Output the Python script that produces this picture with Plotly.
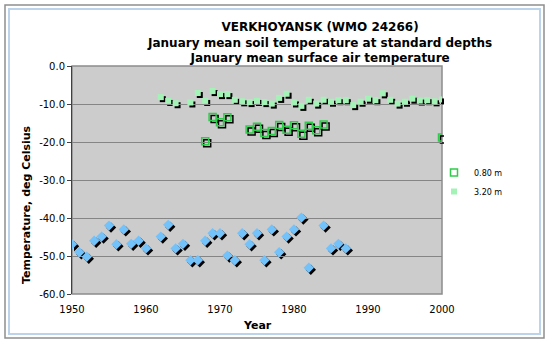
import plotly.graph_objects as go

# ---------------- data ----------------
years_air = [1950, 1951, 1952, 1953, 1954, 1955, 1956, 1957, 1958, 1959, 1960,
             1962, 1963, 1964, 1965, 1966, 1967, 1968, 1969, 1970, 1971, 1972,
             1973, 1974, 1975, 1976, 1977, 1978, 1979, 1980, 1981, 1982, 1984,
             1985, 1986, 1987]
air_temp = [-46.9, -49.0, -50.2, -46.0, -44.9, -42.0, -46.9, -43.0, -46.8, -46.0, -48.0,
            -44.9, -41.8, -48.0, -46.8, -51.1, -51.1, -46.0, -44.0, -44.0, -49.9, -51.1,
            -44.0, -46.9, -44.0, -51.1, -43.0, -49.0, -44.9, -43.0, -39.9, -53.1, -42.0,
            -48.0, -46.8, -48.0]

years_080 = [1968, 1969, 1970, 1971, 1974, 1975, 1976, 1977, 1978, 1979, 1980,
             1981, 1982, 1983, 1984, 2000]
soil_080 = [-19.8, -13.4, -14.8, -13.5, -16.7, -16.0, -17.6, -17.1, -15.5, -16.8, -15.6,
            -17.8, -15.7, -16.9, -15.4, -18.8]

years_320 = [1962, 1963, 1964, 1966, 1967, 1968, 1969, 1970, 1971, 1972, 1973, 1974,
             1975, 1976, 1977, 1978, 1979, 1980, 1981, 1982, 1983, 1984, 1985, 1986,
             1987, 1988, 1989, 1990, 1991, 1992, 1993, 1994, 1995, 1996, 1997, 1998,
             1999, 2000]
soil_320 = [-8.2, -9.2, -9.8, -9.6, -7.1, -9.2, -6.6, -7.4, -7.4, -8.9, -9.3, -9.5,
            -9.2, -9.5, -9.9, -8.4, -7.3, -9.6, -10.5, -8.9, -9.9, -8.9, -9.4, -9.0,
            -9.0, -10.3, -9.4, -8.6, -9.0, -7.2, -8.9, -9.9, -9.4, -8.6, -9.1, -9.0,
            -9.3, -8.8]

x_tick_vals = [1950, 1960, 1970, 1980, 1990, 2000]
x_tick_labels = ["1950", "1960", "1970", "1980", "1990", "2000"]
y_tick_vals = [0, -10, -20, -30, -40, -50, -60]
y_tick_labels = ["0.0", "-10.0", "-20.0", "-30.0", "-40.0", "-50.0", "-60.0"]

title_lines = ["VERKHOYANSK (WMO 24266)",
               "January mean soil temperature at standard depths",
               "January mean surface air temperature"]

# ---------------- layout helpers ----------------
W, H = 550, 346
PL, PR, PT, PB = 72, 442, 66, 294   # plot area in pixels
SH = 2                              # shadow offset in pixels
FONT = "DejaVu Sans"


def px(x):
    return x / W


def py(y):
    return 1 - y / H


fig = go.Figure()

# shadow traces (drawn on a subplot shifted down-right by SH pixels)
fig.add_trace(go.Scatter(x=years_air, y=air_temp, mode="markers", xaxis="x", yaxis="y",
                         marker=dict(symbol="diamond", size=8, color="#000000"),
                         showlegend=False, hoverinfo="skip"))
fig.add_trace(go.Scatter(x=years_080, y=soil_080, mode="markers", xaxis="x", yaxis="y",
                         marker=dict(symbol="square-open", size=7, color="#000000",
                                     line=dict(width=1.5, color="#000000")),
                         showlegend=False, hoverinfo="skip"))
fig.add_trace(go.Scatter(x=years_320, y=soil_320, mode="markers", xaxis="x", yaxis="y",
                         marker=dict(symbol="square", size=6, color="#000000"),
                         showlegend=False, hoverinfo="skip"))

# main traces
fig.add_trace(go.Scatter(x=years_air, y=air_temp, mode="markers", xaxis="x2", yaxis="y2",
                         name="Air", showlegend=False,
                         marker=dict(symbol="diamond", size=8, color="#74C2FA",
                                     line=dict(width=0))))
fig.add_trace(go.Scatter(x=years_080, y=soil_080, mode="markers", xaxis="x2", yaxis="y2",
                         name="0.80 m",
                         marker=dict(symbol="square-open", size=7, color="#2FCB4A",
                                     line=dict(width=1.5, color="#2FCB4A"))))
fig.add_trace(go.Scatter(x=years_320, y=soil_320, mode="markers", xaxis="x2", yaxis="y2",
                         name="3.20 m",
                         marker=dict(symbol="square", size=6, color="#A4F3B6",
                                     line=dict(width=0))))

fig.update_layout(
    width=W, height=H,
    margin=dict(l=0, r=0, t=0, b=0),
    paper_bgcolor="#FFFFFF",
    plot_bgcolor="rgba(0,0,0,0)",
    font=dict(family=FONT, size=10, color="#000000"),
    xaxis=dict(domain=[px(PL + SH), px(PR + SH)], range=[1950, 2000], visible=False,
               anchor="y", fixedrange=True),
    yaxis=dict(domain=[py(PB + SH), py(PT + SH)], range=[-60, 0], visible=False,
               anchor="x", fixedrange=True),
    xaxis2=dict(domain=[px(PL), px(PR)], range=[1950, 2000], anchor="y2",
                tickvals=x_tick_vals, ticktext=x_tick_labels, ticks="",
                ticklabelstandoff=8,
                showline=False, showgrid=False, zeroline=False,
                tickfont=dict(size=10), automargin=False),
    xaxis3=dict(overlaying="x2", side="top", anchor="y2", range=[1950, 2000],
                tickvals=x_tick_vals, ticks="inside", ticklen=4, tickcolor="#404040",
                showticklabels=False, showline=True, linecolor="#404040", linewidth=1,
                showgrid=False, zeroline=False),
    yaxis2=dict(domain=[py(PB), py(PT)], range=[-60, 0], anchor="x2",
                tickvals=y_tick_vals, ticktext=y_tick_labels,
                ticks="outside", ticklen=4, tickcolor="#404040",
                showline=True, linecolor="#404040", linewidth=1,
                showgrid=True, gridcolor="#858585", gridwidth=1.3, zeroline=False,
                tickfont=dict(size=10), automargin=False),
    legend=dict(x=px(434), y=py(158), xanchor="left", yanchor="top",
                bgcolor="rgba(0,0,0,0)", font=dict(size=8, family=FONT),
                itemsizing="trace"),
    showlegend=True,
)

# plot area background and frame
fig.add_shape(type="rect", xref="paper", yref="paper",
              x0=px(PL), x1=px(PR), y0=py(PB), y1=py(PT),
              fillcolor="#CCCCCC", line=dict(color="#8C8C8C", width=1.5), layer="below")

# window frame
fig.add_shape(type="rect", xref="paper", yref="paper",
              x0=px(5), x1=px(544), y0=py(338), y1=py(5),
              line=dict(color="#8E8E8E", width=1.5), fillcolor="rgba(0,0,0,0)", layer="below")
fig.add_shape(type="rect", xref="paper", yref="paper",
              x0=px(9), x1=px(540), y0=py(334), y1=py(9),
              line=dict(color="#BCD3EC", width=2), fillcolor="rgba(0,0,0,0)", layer="below")

# titles
fig.add_annotation(text="<br>".join("<b>%s</b>" % t for t in title_lines),
                   xref="paper", yref="paper", x=px(319), y=py(42),
                   xanchor="center", yanchor="middle", showarrow=False,
                   font=dict(family=FONT, size=12, color="#000000"))
fig.add_annotation(text="<b>Year</b>", xref="paper", yref="paper",
                   x=px(257), y=py(325), xanchor="center", yanchor="middle",
                   showarrow=False, font=dict(family=FONT, size=11))
fig.add_annotation(text="<b>Temperature, deg Celsius</b>", xref="paper", yref="paper",
                   x=px(27), y=py(205), xanchor="center", yanchor="middle",
                   textangle=-90, showarrow=False, font=dict(family=FONT, size=11))

fig.write_html("out.html")
